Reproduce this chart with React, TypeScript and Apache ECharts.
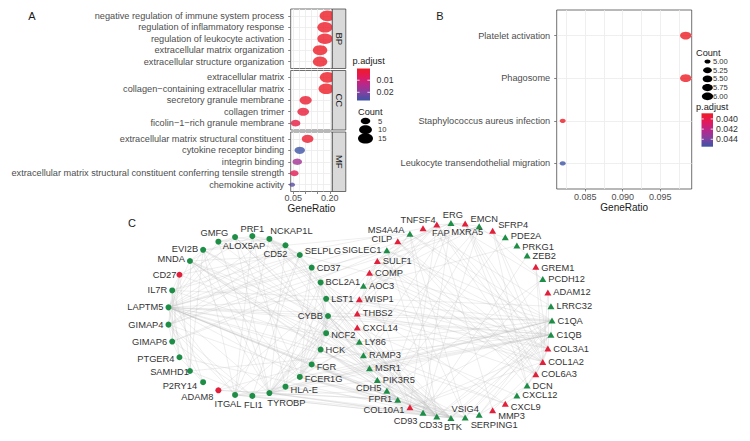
import React, { useEffect, useRef } from 'react';
import * as echarts from 'echarts';

// ---------------- Panel A data (GO enrichment) ----------------
const bpTerms = [
  'negative regulation of immune system process',
  'regulation of inflammatory response',
  'regulation of leukocyte activation',
  'extracellular matrix organization',
  'extracellular structure organization',
];
const bpRatio = [0.19, 0.18, 0.18, 0.16, 0.16];
const bpCount = [17, 16, 16, 14, 14];
const bpPadj = [0.0003, 0.0008, 0.0012, 0.0005, 0.0006];

const ccTerms = [
  'extracellular matrix',
  'collagen\u2212containing extracellular matrix',
  'secretory granule membrane',
  'collagen trimer',
  'ficolin\u22121\u2212rich granule membrane',
];
const ccRatio = [0.19, 0.185, 0.101, 0.091, 0.06];
const ccCount = [16, 16, 9, 8, 5];
const ccPadj = [0.0004, 0.0007, 0.002, 0.003, 0.004];

const mfTerms = [
  'extracellular matrix structural constituent',
  'cytokine receptor binding',
  'integrin binding',
  'extracellular matrix structural constituent conferring tensile strength',
  'chemokine activity',
];
const mfRatio = [0.109, 0.077, 0.067, 0.055, 0.046];
const mfCount = [8, 6, 5, 4, 3];
const mfPadj = [0.0015, 0.0268, 0.016, 0.006, 0.024];

const facetNames = ['BP', 'CC', 'MF'];
const aXTicks = [0.05, 0.1, 0.15, 0.2];
const aXLabels = [0.05, 0.2];
const aXGrid = [0.05, 0.075, 0.1, 0.125, 0.15, 0.175, 0.2];
const aXRange = [0.04, 0.21];
const aPadjRange = [0.0003, 0.0268];
const aPadjBreaks = [0.01, 0.02];
const aCountRange = [3, 17];
const aCountBreaks = [5, 10, 15];

// ---------------- Panel B data (KEGG) ----------------
const keggTerms = [
  'Platelet activation',
  'Phagosome',
  'Staphylococcus aureus infection',
  'Leukocyte transendothelial migration',
];
const keggRatio = [0.0984, 0.0984, 0.082, 0.082];
const keggCount = [6, 6, 5, 5];
const keggPadj = [0.03889, 0.03889, 0.03889, 0.04546];
const bXTicks = [0.085, 0.09, 0.095];
const bXGrid = [0.0825, 0.085, 0.0875, 0.09, 0.0925, 0.095, 0.0975];
const bXRange = [0.0812, 0.0992];
const bPadjRange = [0.03889, 0.04546];
const bPadjBreaks = [0.04, 0.042, 0.044];
const bCountRange = [5, 6];
const bCountBreaks = [5.0, 5.25, 5.5, 5.75, 6.0];

// ---------------- Panel C data (network) ----------------
const circleGenes = [
  'CYBB', 'NCF2', 'HCK', 'FGR', 'FCER1G', 'HLA-E', 'TYROBP', 'FLI1', 'ITGAL', 'ADAM8',
  'P2RY14', 'SAMHD1', 'PTGER4', 'GIMAP6', 'GIMAP4', 'LAPTM5', 'IL7R', 'CD27', 'MNDA', 'EVI2B',
  'GMFG', 'ALOX5AP', 'PRF1', 'NCKAP1L', 'CD52', 'SELPLG', 'CD37', 'BCL2A1', 'LST1',
];
const triangleGenes = [
  'C1QA', 'C1QB', 'COL3A1', 'COL1A2', 'COL6A3', 'DCN', 'CXCL12', 'CXCL9', 'MMP3', 'SERPING1',
  'VSIG4', 'BTK', 'CD33', 'CD93', 'COL10A1', 'FPR1', 'CDH5', 'PIK3R5', 'MSR1', 'RAMP3',
  'LY86', 'CXCL14', 'THBS2', 'WISP1', 'AOC3', 'COMP', 'SULF1', 'SIGLEC1', 'CILP', 'MS4A4A',
  'TNFSF4', 'FAP', 'ERG', 'MXRA5', 'EMCN', 'SFRP4', 'PDE2A', 'PRKG1', 'ZEB2', 'GREM1',
  'PCDH12', 'ADAM12', 'LRRC32',
];
const upGenes = [
  'CD27', 'ADAM8', 'COL3A1', 'COL1A2', 'COL6A3', 'CXCL9', 'MMP3', 'COL10A1', 'CXCL14', 'THBS2',
  'WISP1', 'COMP', 'SULF1', 'CILP', 'TNFSF4', 'FAP', 'MXRA5', 'SFRP4', 'GREM1', 'ADAM12',
];
const edgeGroups: [string, string[]][] = [
  ['LAPTM5', ['TYROBP', 'FCER1G', 'CYBB', 'HCK', 'NCKAP1L', 'CD52', 'EVI2B', 'GMFG', 'ALOX5AP', 'SELPLG', 'CD37', 'LST1', 'MNDA', 'NCF2', 'FGR', 'ITGAL', 'SAMHD1', 'PTGER4', 'C1QA', 'C1QB', 'CD33', 'BTK', 'VSIG4', 'MS4A4A', 'LY86', 'FPR1', 'MSR1', 'SIGLEC1']],
  ['TYROBP', ['FCER1G', 'CYBB', 'HCK', 'LST1', 'NCF2', 'FGR', 'MNDA', 'ALOX5AP', 'ITGAL', 'HLA-E', 'BCL2A1', 'GMFG', 'CD52', 'EVI2B', 'C1QA', 'C1QB', 'BTK', 'CD33', 'VSIG4', 'FPR1', 'MS4A4A', 'SIGLEC1', 'LY86', 'MSR1', 'PIK3R5']],
  ['FCER1G', ['CYBB', 'HCK', 'LST1', 'FGR', 'NCF2', 'MNDA', 'ALOX5AP', 'BCL2A1', 'CD37', 'C1QA', 'C1QB', 'BTK', 'CD33', 'FPR1', 'VSIG4', 'MS4A4A', 'LY86']],
  ['CYBB', ['NCF2', 'HCK', 'MNDA', 'ITGAL', 'SELPLG', 'NCKAP1L', 'EVI2B', 'FGR', 'BTK', 'CD33', 'FPR1', 'C1QA', 'C1QB', 'LY86', 'MSR1', 'PIK3R5']],
  ['HCK', ['FGR', 'NCF2', 'MNDA', 'LST1', 'BTK', 'CD33', 'FPR1', 'PIK3R5']],
  ['NCF2', ['BTK', 'FPR1', 'CD33']],
  ['FGR', ['FPR1', 'BTK', 'CD33', 'ADAM8']],
  ['MNDA', ['SELPLG', 'CD33', 'FPR1', 'BTK', 'LY86', 'SAMHD1']],
  ['NCKAP1L', ['ITGAL', 'SELPLG', 'HCK', 'CD52', 'CD37', 'GMFG', 'PRF1', 'EVI2B', 'BTK', 'CD33']],
  ['CD27', ['IL7R', 'PRF1', 'GIMAP4', 'GIMAP6', 'SAMHD1', 'TNFSF4', 'CXCL9']],
  ['IL7R', ['GIMAP4', 'GIMAP6', 'PTGER4', 'CD52', 'SELPLG', 'P2RY14', 'LRRC32', 'CXCL9']],
  ['GIMAP4', ['GIMAP6', 'CD52', 'SELPLG', 'FLI1', 'ITGAL', 'P2RY14', 'EMCN', 'ERG', 'CD93']],
  ['GIMAP6', ['FLI1', 'PTGER4', 'ERG', 'EMCN']],
  ['PRF1', ['ITGAL', 'HLA-E', 'CD52', 'GMFG', 'CXCL9']],
  ['EVI2B', ['MNDA', 'CD52', 'SAMHD1', 'ITGAL', 'CD33', 'LY86']],
  ['ADAM8', ['LST1', 'TYROBP', 'FPR1']],
  ['SAMHD1', ['FLI1', 'C1QB']],
  ['ALOX5AP', ['GMFG', 'CD52', 'MNDA', 'FPR1', 'CD33', 'MSR1']],
  ['CD37', ['LST1', 'CD52', 'HLA-E', 'BTK']],
  ['SELPLG', ['ITGAL', 'CD52', 'FLI1', 'CD33', 'C1QA']],
  ['HLA-E', ['ITGAL', 'C1QA', 'C1QB', 'SERPING1']],
  ['FLI1', ['ITGAL', 'ERG', 'CDH5', 'CD93']],
  ['P2RY14', ['PTGER4']],
  ['CD52', ['CD33', 'MS4A4A', 'LY86']],
  ['GMFG', ['BTK']],
  ['ITGAL', ['CD33', 'BTK']],
  ['LST1', ['C1QA', 'C1QB', 'CD33', 'FPR1']],
  ['BCL2A1', ['FPR1', 'LST1', 'NCF2']],
  ['PTGER4', ['CD93']],
  ['COL1A2', ['COL3A1', 'COL6A3', 'DCN', 'COMP', 'THBS2', 'FAP', 'SULF1', 'COL10A1', 'MXRA5', 'CILP', 'SFRP4', 'WISP1', 'ADAM12', 'GREM1', 'MMP3']],
  ['COL3A1', ['COL6A3', 'DCN', 'THBS2', 'FAP', 'SULF1', 'MXRA5', 'SFRP4', 'COMP', 'ADAM12', 'WISP1', 'COL10A1', 'GREM1']],
  ['COL6A3', ['DCN', 'FAP', 'MXRA5', 'COMP', 'THBS2', 'SULF1', 'CILP']],
  ['DCN', ['CXCL12', 'SFRP4', 'MXRA5', 'CILP', 'SERPING1']],
  ['COMP', ['THBS2', 'CILP', 'COL10A1', 'FAP']],
  ['FAP', ['SULF1', 'THBS2', 'WISP1', 'COL10A1', 'MMP3', 'MXRA5']],
  ['THBS2', ['SULF1', 'COL10A1']],
  ['CXCL12', ['CXCL14', 'CXCL9']],
  ['ERG', ['EMCN', 'PCDH12', 'CDH5', 'CD93', 'PDE2A', 'RAMP3']],
  ['EMCN', ['CDH5', 'CD93', 'PCDH12', 'RAMP3', 'AOC3']],
  ['CDH5', ['CD93', 'PCDH12', 'PDE2A']],
  ['CD93', ['PCDH12', 'ZEB2']],
  ['PRKG1', ['ZEB2', 'AOC3']],
  ['C1QA', ['C1QB', 'VSIG4', 'MS4A4A', 'SIGLEC1', 'CD33', 'BTK', 'FPR1', 'MSR1', 'LY86', 'SERPING1']],
  ['C1QB', ['VSIG4', 'MS4A4A', 'SIGLEC1', 'MSR1', 'LY86', 'CD33', 'BTK', 'SERPING1']],
  ['VSIG4', ['MS4A4A', 'SIGLEC1', 'MSR1', 'CD33']],
  ['BTK', ['CD33', 'FPR1', 'PIK3R5', 'LY86']],
  ['CD33', ['FPR1', 'SIGLEC1', 'LY86', 'MS4A4A']],
  ['LRRC32', ['TNFSF4']],
];

// ---------------- Layout & style (not data) ----------------
const FONT = "'Liberation Sans', Arial, Helvetica, sans-serif";
const GRID_C = '#EBEBEB';
const BORDER_C = '#333333';
const AXIS_TXT = '#4D4D4D';
const TITLE_TXT = '#1A1A1A';
const PADJ_COLORS = ['#ED1C24', '#E3195A', '#B7288A', '#8240A0', '#3D54A5'];
const NODE_GREEN = '#1E8E47';
const NODE_RED = '#E2203C';

const A_LEFT = 290.7;
const A_WIDTH = 41.6;
const A_TOPS = [9, 70.5, 132];
const A_HEIGHT = 59.5;
const STRIP_W = 13.5;
const B_BOX = { left: 556.7, top: 10, width: 135, height: 179 };

const RING_CIRCLES = { cx: 248, cy: 316, r: 80 };
const RING_TRIANGLES = { cx: 454.5, cy: 320.5, r: 97.5 };

const LABEL_POS: Record<string, [string, number, number]> = {
  CYBB: ['left', 0, 0], NCF2: ['right', 0, 2], FGR: ['right', 0, 3], FCER1G: ['right', 0, 2], 'HLA-E': ['right', 0, 3],
  TYROBP: ['bottom', 17, 0], FLI1: ['bottom', 1, 0], ITGAL: ['bottom', -7, 0], ADAM8: ['left', 0, 7], P2RY14: ['left', -1, 4],
  SAMHD1: ['left', 4, 1], PTGER4: ['left', 0, 2], GIMAP6: ['left', 0, 0], GIMAP4: ['left', 0, 0], LAPTM5: ['left', 0, 0],
  IL7R: ['left', 0, 0], CD27: ['left', 2, 0], MNDA: ['left', 0, -2], EVI2B: ['left', 0, -1],
  GMFG: ['top', -4, 1], ALOX5AP: ['bottom', 9, -1], PRF1: ['top', 0, 2], NCKAP1L: ['top', 22, 2], CD52: ['bottom', -10, -1],
  SELPLG: ['right', 0, -4],
  CXCL9: ['right', 0, 3], MMP3: ['right', 0, 6], SERPING1: ['bottom', 15, 1], VSIG4: ['top', 0, 1], BTK: ['bottom', 2, 0], CD33: ['bottom', -6, -1],
  CD93: ['left', 0, 8], COL10A1: ['left', 0, 3], FPR1: ['left', 0, -1], CDH5: ['left', 0, -3],
  SIGLEC1: ['left', 0, 0], CILP: ['left', 0, -2], MS4A4A: ['left', 0, -4], TNFSF4: ['top', -5, 1], FAP: ['bottom', 4, -1],
  ERG: ['top', 2, 1], MXRA5: ['bottom', 2, -1], EMCN: ['top', 5, 2], SFRP4: ['right', 0, -6], PDE2A: ['right', 0, -1],
  PRKG1: ['right', 0, 1], ZEB2: ['right', 0, 1], GREM1: ['right', 0, 1],
};

// size of a dot (height in px) from count, ggplot-like area scale
function dotH(c: number, range: number[], hMin: number, hMax: number) {
  const t = Math.max(0, (c - range[0]) / (range[1] - range[0]));
  return hMin + (hMax - hMin) * Math.sqrt(t);
}
const DOT_ASPECT = 1.45;
const aDot = (c: number) => dotH(c, aCountRange, 4.05, 10.8);
const bDot = (c: number) => dotH(c, bCountRange, 4.2, 7.8);

function buildOption() {
  const facets = [
    { terms: bpTerms, ratio: bpRatio, count: bpCount, padj: bpPadj },
    { terms: ccTerms, ratio: ccRatio, count: ccCount, padj: ccPadj },
    { terms: mfTerms, ratio: mfRatio, count: mfCount, padj: mfPadj },
  ];

  const grids: any[] = A_TOPS.map((top) => ({
    left: A_LEFT, top, width: A_WIDTH, height: A_HEIGHT,
    show: true, borderColor: BORDER_C, borderWidth: 0.7, backgroundColor: '#fff',
    containLabel: false, outerBoundsMode: 'none',
  }));
  grids.push({
    ...B_BOX, show: true, borderColor: BORDER_C, borderWidth: 0.7, backgroundColor: '#fff',
    containLabel: false, outerBoundsMode: 'none',
  });

  const splitStyle = { show: true, lineStyle: { color: GRID_C, width: 0.8, type: 'solid' } };

  const gridAxis = (gridIndex: number, range: number[], vals: number[]) => ({
    type: 'value', gridIndex, min: range[0], max: range[1],
    axisLine: { show: false },
    axisTick: { show: false, customValues: vals },
    axisLabel: { show: false, customValues: vals },
    splitLine: splitStyle,
  });
  const tickAxis = (gridIndex: number, range: number[], ticks: number[], labels: number[], digits: number, margin: number, nameGap: number) => ({
    type: 'value', gridIndex, min: range[0], max: range[1], position: 'bottom',
    axisLine: { show: false },
    splitLine: { show: false },
    axisTick: { show: true, customValues: ticks, length: 2.5, lineStyle: { color: BORDER_C, width: 0.6 } },
    axisLabel: {
      show: true, customValues: labels, formatter: (v: number) => v.toFixed(digits),
      fontSize: 9, color: AXIS_TXT, margin, fontFamily: FONT,
    },
    name: 'GeneRatio', nameLocation: 'middle', nameGap,
    nameTextStyle: { fontSize: 10, color: TITLE_TXT, fontFamily: FONT },
  });
  const catAxis = (gridIndex: number, terms: string[]) => {
    const idx = terms.map((_, i) => i);
    return {
      type: 'value', gridIndex, min: -0.6, max: terms.length - 0.4, inverse: true,
      axisLine: { show: false },
      axisTick: { show: true, customValues: idx, length: 2.5, lineStyle: { color: BORDER_C, width: 0.6 } },
      axisLabel: {
        customValues: idx, formatter: (v: number) => terms[Math.round(v)] ?? '',
        fontSize: 9.2, color: AXIS_TXT, margin: 6.5, fontFamily: FONT,
      },
      splitLine: splitStyle,
    };
  };

  const xAxes: any[] = [
    gridAxis(0, aXRange, aXGrid),
    gridAxis(1, aXRange, aXGrid),
    gridAxis(2, aXRange, aXGrid),
    tickAxis(2, aXRange, aXTicks, aXLabels, 2, 2, 9.7),
    gridAxis(3, bXRange, bXGrid),
    tickAxis(3, bXRange, bXTicks, bXTicks, 3, 3.5, 10.3),
  ];
  const yAxes: any[] = [
    catAxis(0, bpTerms), catAxis(1, ccTerms), catAxis(2, mfTerms), catAxis(3, keggTerms),
  ];

  const series: any[] = facets.map((f, k) => ({
    type: 'scatter', xAxisIndex: k, yAxisIndex: k, silent: true, clip: true, z: 3,
    symbol: 'circle',
    symbolSize: (v: number[]) => { const h = aDot(v[2]); return [h * DOT_ASPECT, h]; },
    data: f.terms.map((_, i) => [f.ratio[i], i, f.count[i], f.padj[i]]),
  }));
  series.push({
    type: 'scatter', xAxisIndex: 4, yAxisIndex: 3, silent: true, clip: true, z: 3,
    symbol: 'circle',
    symbolSize: (v: number[]) => { const h = bDot(v[2]); return [h * DOT_ASPECT, h]; },
    data: keggTerms.map((_, i) => [keggRatio[i], i, keggCount[i], keggPadj[i]]),
  });

  // ---- network ----
  const nodes: any[] = [];
  const addRing = (genes: string[], ring: { cx: number; cy: number; r: number }, symbol: string, size: number | number[]) => {
    genes.forEach((g, i) => {
      const a = (2 * Math.PI * i) / genes.length;
      const lp = LABEL_POS[g] || ['right', 0, 0];
      nodes.push({
        name: g,
        x: ring.cx + ring.r * Math.cos(a),
        y: ring.cy + ring.r * Math.sin(a),
        symbol, symbolSize: size,
        itemStyle: { color: upGenes.includes(g) ? NODE_RED : NODE_GREEN },
        label: { position: lp[0], offset: [lp[1], lp[2]] },
      });
    });
  };
  addRing(circleGenes, RING_CIRCLES, 'circle', 6);
  addRing(triangleGenes, RING_TRIANGLES, 'triangle', [7, 6]);
  const xs = nodes.map((n) => n.x);
  const ys = nodes.map((n) => n.y);
  const minX = Math.min(...xs), maxX = Math.max(...xs), minY = Math.min(...ys), maxY = Math.max(...ys);
  const seen = new Set<string>();
  const links: any[] = [];
  edgeGroups.forEach(([src, tgts]) => tgts.forEach((t) => {
    const key = [src, t].sort().join('|');
    if (!seen.has(key) && src !== t) { seen.add(key); links.push({ source: src, target: t }); }
  }));
  series.push({
    type: 'graph', layout: 'none', roam: false, silent: true,
    left: minX, top: minY, width: maxX - minX, height: maxY - minY,
    data: nodes, links,
    lineStyle: { color: '#BBBBBB', width: 0.5, opacity: 0.5, curveness: 0, type: 'solid' },
    label: { show: true, fontSize: 9.3, color: '#333333', fontFamily: FONT, distance: 2 },
    emphasis: { disabled: true },
    z: 3,
  });

  // ---- graphics: strips, legends, panel letters ----
  const g: any[] = [];
  const A_RIGHT = A_LEFT + A_WIDTH;
  facetNames.forEach((nm, k) => {
    g.push({ type: 'rect', shape: { x: A_RIGHT, y: A_TOPS[k], width: STRIP_W, height: A_HEIGHT }, style: { fill: '#D9D9D9', stroke: BORDER_C, lineWidth: 0.7 }, z: 10 });
    g.push({ type: 'text', x: A_RIGHT + STRIP_W / 2, y: A_TOPS[k] + A_HEIGHT / 2, rotation: -Math.PI / 2, style: { text: nm, fontSize: 9.5, fill: TITLE_TXT, align: 'center', verticalAlign: 'middle', fontFamily: FONT }, z: 11 });
  });
  const txt = (text: string, x: number, y: number, size: number, fill: string, align = 'left') => ({
    type: 'text', x, y, style: { text, fontSize: size, fill, align, verticalAlign: 'middle', fontFamily: FONT }, z: 11,
  });
  g.push(txt('A', 32, 16, 11, TITLE_TXT, 'center'));
  g.push(txt('B', 440, 16, 11, TITLE_TXT, 'center'));
  g.push(txt('C', 132, 223, 11, TITLE_TXT, 'center'));

  const colorbar = (x: number, y: number, w: number, h: number, range: number[], breaks: number[], digits: number, labelX: number) => {
    const stops = PADJ_COLORS.map((c, i) => ({ offset: i / (PADJ_COLORS.length - 1), color: c }));
    g.push({ type: 'rect', shape: { x, y, width: w, height: h }, style: { fill: new echarts.graphic.LinearGradient(0, 0, 0, 1, stops) }, z: 10 });
    breaks.forEach((b) => {
      const yy = y + ((b - range[0]) / (range[1] - range[0])) * h;
      g.push({ type: 'line', shape: { x1: x, y1: yy, x2: x + w * 0.2, y2: yy }, style: { stroke: '#fff', lineWidth: 0.8 }, z: 11 });
      g.push({ type: 'line', shape: { x1: x + w * 0.8, y1: yy, x2: x + w, y2: yy }, style: { stroke: '#fff', lineWidth: 0.8 }, z: 11 });
      g.push(txt(b.toFixed(digits), labelX, yy, 8.8, '#333333'));
    });
  };
  const countLegend = (cx: number, y0: number, step: number, breaks: number[], sizeFn: (c: number) => number, digits: number, labelX: number, fs: number) => {
    breaks.forEach((b, i) => {
      const h = sizeFn(b);
      g.push({ type: 'ellipse', shape: { cx, cy: y0 + i * step, rx: (h * DOT_ASPECT) / 2, ry: h / 2 }, style: { fill: '#000' }, z: 10 });
      g.push(txt(b.toFixed(digits), labelX, y0 + i * step, fs, '#333333'));
    });
  };
  // Panel A legends
  g.push(txt('p.adjust', 352.5, 61, 9.2, TITLE_TXT));
  colorbar(357, 68.5, 13, 32, aPadjRange, aPadjBreaks, 2, 376.5);
  g.push(txt('Count', 358, 112, 9.2, TITLE_TXT));
  countLegend(365.5, 121, 8.7, aCountBreaks, aDot, 0, 378, 7.6);
  // Panel B legends
  g.push(txt('Count', 696, 52.7, 9.2, TITLE_TXT));
  countLegend(707.5, 61.5, 8.7, bCountBreaks, bDot, 2, 713, 7.6);
  g.push(txt('p.adjust', 696, 107, 9.2, TITLE_TXT));
  colorbar(701.5, 113.3, 11.5, 33.4, bPadjRange, bPadjBreaks, 3, 716);

  return {
    animation: false,
    backgroundColor: '#ffffff',
    textStyle: { fontFamily: FONT },
    grid: grids,
    xAxis: xAxes,
    yAxis: yAxes,
    visualMap: [
      { type: 'continuous', show: false, seriesIndex: [0, 1, 2], dimension: 3, min: aPadjRange[0], max: aPadjRange[1], inRange: { color: PADJ_COLORS } },
      { type: 'continuous', show: false, seriesIndex: [3], dimension: 3, min: bPadjRange[0], max: bPadjRange[1], inRange: { color: PADJ_COLORS } },
    ],
    series,
    graphic: g,
  };
}

export default function App() {
  const ref = useRef<HTMLDivElement>(null);
  useEffect(() => {
    if (!ref.current) return;
    const chart = echarts.init(ref.current, undefined, { renderer: 'svg' });
    chart.setOption(buildOption() as any);
    return () => chart.dispose();
  }, []);
  return (
    <div
      ref={ref}
      style={{ position: 'absolute', left: 0, top: 0, width: 750, height: 441, background: '#fff' }}
    />
  );
}
